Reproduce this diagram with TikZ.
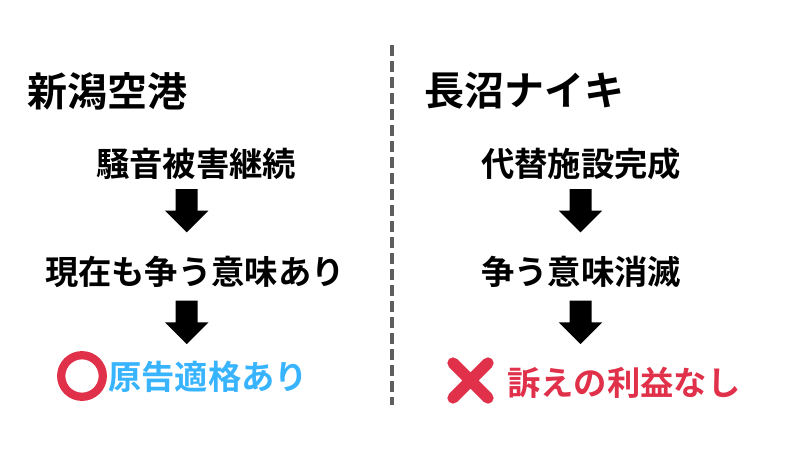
\documentclass[tikz,border=0pt]{standalone}
\usepackage{fontspec}
\setmainfont{Noto Sans CJK JP}[BoldFont={* Bold}]
\definecolor{crimson}{HTML}{E0304A}
\definecolor{skyb}{HTML}{38B4FF}
\definecolor{divgray}{HTML}{5F5F5F}
\newcommand{\sz}[1]{\fontsize{#1}{#1}\selectfont}
\tikzset{
 headtext/.style={inner sep=0pt,anchor=west,font=\bfseries\sz{30pt}},
 bodytext/.style={inner sep=0pt,font=\bfseries\sz{25pt}},
 resulttext/.style={inner sep=0pt,anchor=west,font=\bfseries\sz{25pt}},
}
\begin{document}
\begin{tikzpicture}[x=0.75pt,y=-0.75pt]
\useasboundingbox (0,0) rectangle (800,450);
\fill[white] (0,0) rectangle (800,450);
\coordinate (divtop) at (391.5,45);
\coordinate (divbot) at (391.5,405);
\draw[divgray,line width=3pt,dash pattern=on 8.25pt off 3.75pt] (divtop) -- (divbot);
\node[headtext] (h1) at (27,91) {新潟空港};
\node[headtext] (h2) at (424,91) {長沼ナイキ};
\node[bodytext] (a1) at (196,164) {騒音被害継続};
\node[bodytext] (a2) at (195,272) {現在も争う意味あり};
\node[bodytext] (b1) at (581,164) {代替施設完成};
\node[bodytext] (b2) at (581,272) {争う意味消滅};
\node[resulttext,text=skyb] (a3) at (108,377) {原告適格あり};
\node[resulttext,text=crimson] (b3) at (507,383) {訴えの利益なし};
\foreach \n/\cx/\ty in {ar1/186.7/189,ar2/186.7/300.7,ar3/580.5/189,ar4/580.5/300.7}{
 \fill[black] (\cx-11,\ty) -- (\cx+11,\ty) -- (\cx+11,\ty+21.7) -- (\cx+21.7,\ty+21.7) -- (\cx,\ty+43.4) -- (\cx-21.7,\ty+21.7) -- (\cx-11,\ty+21.7) -- cycle;
}
\draw[crimson,line width=6.2pt] (82,376) circle (20.8);
\draw[crimson,line width=8.5pt,line cap=round] (453,363) -- (488,398) (488,363) -- (453,398);
\end{tikzpicture}
\end{document}
